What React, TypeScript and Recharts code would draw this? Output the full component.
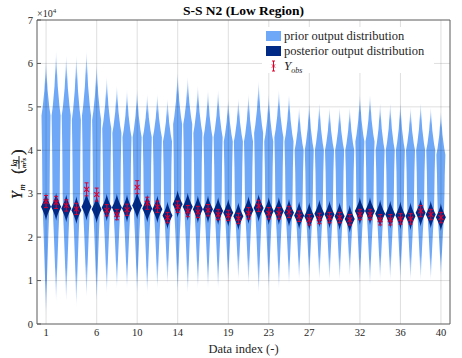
import React from "react";
import {
  ComposedChart,
  Bar,
  Scatter,
  ErrorBar,
  XAxis,
  YAxis,
  ReferenceLine,
} from "recharts";

// all output values are in units of 10^4 kg/(m^2 s)
const dataIndex = [
  1, 2, 3, 4, 5, 6, 7, 8, 9, 10, 11, 12, 13, 14, 15, 16, 17, 18, 19, 20,
  21, 22, 23, 24, 25, 26, 27, 28, 29, 30, 31, 32, 33, 34, 35, 36, 37, 38, 39, 40,
];

// prior output distribution: upper tail end, widest point, lower tail end
const priorHigh = [
  6.1, 6.3, 6.2, 6.2, 6.3, 6.0, 5.7, 5.5, 5.4, 5.4, 5.3, 5.3, 5.2, 5.8, 5.7, 5.5, 5.4, 5.4, 5.2, 5.2,
  5.3, 5.6, 5.3, 5.4, 5.3, 5.0, 5.1, 5.1, 5.0, 5.0, 5.0, 5.3, 5.3, 5.1, 5.1, 5.1, 5.0, 5.1, 5.0, 4.9,
];
const priorMode = [
  4.8, 4.8, 4.8, 4.7, 4.8, 4.7, 4.5, 4.4, 4.3, 4.3, 4.3, 4.3, 4.2, 4.6, 4.6, 4.4, 4.3, 4.3, 4.2, 4.2,
  4.2, 4.4, 4.2, 4.3, 4.2, 4.0, 4.0, 4.0, 4.0, 4.0, 4.0, 4.2, 4.2, 4.0, 4.0, 4.0, 4.0, 4.0, 4.0, 3.9,
];
const priorLow = [
  0.2, 0.5, 0.5, 0.4, 0.6, 0.5, 0.7, 0.8, 0.8, 0.7, 0.7, 0.8, 0.9, 0.7, 0.7, 0.8, 0.8, 0.8, 0.9, 1.0,
  0.9, 0.7, 0.8, 0.8, 0.9, 1.0, 1.0, 1.0, 1.0, 1.0, 1.1, 0.9, 0.9, 1.0, 1.0, 1.0, 1.0, 1.0, 1.0, 1.1,
];

// posterior output distribution centre
const posteriorMean = [
  2.70, 2.70, 2.66, 2.62, 2.70, 2.64, 2.68, 2.68, 2.66, 2.73, 2.66, 2.64, 2.50, 2.76, 2.70, 2.64, 2.64, 2.60, 2.56, 2.48,
  2.62, 2.67, 2.60, 2.60, 2.56, 2.50, 2.48, 2.54, 2.52, 2.48, 2.42, 2.60, 2.60, 2.54, 2.52, 2.50, 2.48, 2.56, 2.52, 2.46,
];

// observations y_obs and their error
const obsValue = [
  2.82, 2.80, 2.73, 2.65, 3.10, 2.98, 2.62, 2.52, 2.63, 3.15, 2.78, 2.70, 2.45, 2.70, 2.60, 2.58, 2.62, 2.52, 2.50, 2.43,
  2.55, 2.72, 2.55, 2.55, 2.58, 2.48, 2.40, 2.43, 2.45, 2.45, 2.40, 2.52, 2.52, 2.40, 2.40, 2.42, 2.42, 2.60, 2.52, 2.45,
];
const obsError = [
  0.14, 0.14, 0.13, 0.13, 0.15, 0.15, 0.13, 0.12, 0.13, 0.15, 0.14, 0.13, 0.12, 0.13, 0.13, 0.13, 0.13, 0.12, 0.12, 0.12,
  0.13, 0.13, 0.13, 0.13, 0.13, 0.12, 0.12, 0.12, 0.12, 0.12, 0.12, 0.12, 0.12, 0.12, 0.12, 0.12, 0.12, 0.13, 0.12, 0.12,
];

const xTicks = [1, 6, 10, 14, 19, 23, 27, 32, 36, 40];
const yTicks = [0, 1, 2, 3, 4, 5, 6, 7];

const PRIOR = "#6ea8f7";
const POSTERIOR = "#002a85";
const RED = "#e0002b";
const AXIS = "#5a5a5a";
const GRID = "rgba(0,0,0,0.13)";
const FONT = "'Liberation Serif', 'DejaVu Serif', serif";

const rows = dataIndex.map((idx, i) => ({
  idx,
  prior: [priorLow[i], priorHigh[i]],
  mode: priorMode[i],
  post: posteriorMean[i],
  obs: obsValue[i],
  obsErr: obsError[i],
}));

// half-width (fraction of the category band) along the violin
const UPPER = [
  [1, 0],
  [0.75, 0.065],
  [0.45, 0.16],
  [0.15, 0.33],
  [0, 0.45],
];
const LOWER = [
  [0.2, 0.22],
  [0.6, 0.1],
  [0.88, 0.04],
  [1, 0],
];

function violinPath(pts: number[][], cx: number, band: number, toPx: (v: number) => number) {
  const right = pts.map(([v, w]) => `${(cx + w * band).toFixed(2)},${toPx(v).toFixed(2)}`);
  const left = pts
    .slice()
    .reverse()
    .map(([v, w]) => `${(cx - w * band).toFixed(2)},${toPx(v).toFixed(2)}`);
  return "M" + right.concat(left).join("L") + "Z";
}

function ViolinShape(props: any) {
  const { x, y, width, height, payload } = props;
  const [lo, hi] = payload.prior;
  const top = Math.min(y, y + height);
  const bot = Math.max(y, y + height);
  const toPx = (v: number) => bot - ((v - lo) / (hi - lo)) * (bot - top);
  const cx = x + width / 2;
  const m = payload.mode;

  const prior: number[][] = [];
  UPPER.forEach(([f, w]) => prior.push([m + f * (hi - m), w]));
  prior.push([(m + 3) / 2, 0.39]);
  prior.push([3.0, 0.36]);
  prior.push([2.4, 0.29]);
  LOWER.forEach(([f, w]) => prior.push([2.4 - f * (2.4 - lo), w]));

  const D = 0.32;
  const post: number[][] = [];
  for (let k = 0; k <= 16; k++) {
    const d = D - (2 * D * k) / 16;
    post.push([payload.post + d, 0.5 * Math.pow(1 - Math.abs(d) / D, 1.4)]);
  }

  const gid = `fade-${payload.idx}`;
  return (
    <g>
      <defs>
        <linearGradient id={gid} x1="0" y1="0" x2="0" y2="1">
          <stop offset="0" stopColor={PRIOR} stopOpacity={0.1} />
          <stop offset="0.1" stopColor={PRIOR} stopOpacity={1} />
          <stop offset="0.86" stopColor={PRIOR} stopOpacity={1} />
          <stop offset="1" stopColor={PRIOR} stopOpacity={0.05} />
        </linearGradient>
      </defs>
      <path d={violinPath(prior, cx, width, toPx)} fill={`url(#${gid})`} />
      <path d={violinPath(post, cx, width, toPx)} fill={POSTERIOR} />
    </g>
  );
}

function ObsMarker(props: any) {
  const { cx, cy } = props;
  const s = 2.4;
  return (
    <g stroke={RED} strokeWidth={1.1}>
      <line x1={cx - s} y1={cy - s} x2={cx + s} y2={cy + s} />
      <line x1={cx - s} y1={cy + s} x2={cx + s} y2={cy - s} />
    </g>
  );
}

function YLabel() {
  return (
    <g transform="translate(19,172) rotate(-90)" fontFamily={FONT} fill="#262626">
      <text x={-27} y={3} fontSize={14} fontStyle="italic">Y</text>
      <text x={-18.5} y={6} fontSize={8.5} fontStyle="italic">m</text>
      <text x={-2} y={4} fontSize={17}>(</text>
      <text x={9} y={-2} fontSize={7.5} fontStyle="italic" textAnchor="middle">kg</text>
      <line x1={3} y1={0} x2={16} y2={0} stroke="#262626" strokeWidth={0.6} />
      <text x={9} y={7} fontSize={7} fontStyle="italic" textAnchor="middle">m²s</text>
      <text x={17} y={4} fontSize={17}>)</text>
    </g>
  );
}

export default function App() {
  const tickStyle = { fontSize: 10.5, fill: "#262626", fontFamily: FONT };
  const pad = { left: 4, right: 4 };
  return (
    <div style={{ position: "fixed", left: 0, top: 0, width: 462, height: 358, background: "#fff" }}>
      <ComposedChart
        width={462}
        height={358}
        data={rows}
        margin={{ top: 20, right: 12, bottom: 0, left: 5 }}
        barCategoryGap={0}
      >
        <XAxis xAxisId="cat" dataKey="idx" type="category" hide height={0} padding={pad} />
        <XAxis
          xAxisId="num"
          dataKey="idx"
          type="number"
          domain={[0.5, 40.5]}
          ticks={xTicks}
          interval={0}
          padding={pad}
          height={34}
          tickSize={0}
          tickMargin={5}
          tick={tickStyle}
          axisLine={{ stroke: AXIS }}
          tickLine={false}
          label={{
            value: "Data index (-)",
            position: "insideBottom",
            offset: 5,
            style: { fontSize: 12.5, fill: "#262626", fontFamily: FONT },
          }}
        />
        <XAxis
          xAxisId="top"
          orientation="top"
          type="number"
          domain={[0.5, 40.5]}
          ticks={xTicks}
          interval={0}
          padding={pad}
          mirror
          tick={false}
          tickSize={4}
          axisLine={{ stroke: AXIS }}
          tickLine={{ stroke: AXIS }}
        />
        <YAxis
          type="number"
          domain={[0, 7]}
          ticks={yTicks}
          interval={0}
          width={32}
          tickSize={-4}
          tickMargin={8}
          tick={tickStyle}
          axisLine={{ stroke: AXIS }}
          tickLine={{ stroke: AXIS }}
          label={{ content: () => <YLabel /> }}
        />
        <YAxis
          yAxisId="right"
          orientation="right"
          type="number"
          domain={[0, 7]}
          ticks={yTicks}
          interval={0}
          mirror
          tick={false}
          tickSize={4}
          axisLine={{ stroke: AXIS }}
          tickLine={{ stroke: AXIS }}
        />
        <Bar
          xAxisId="cat"
          dataKey="prior"
          shape={ViolinShape}
          isAnimationActive={false}
        />
        {xTicks.map((t) => (
          <ReferenceLine key={`gx${t}`} xAxisId="num" x={t} stroke={GRID} />
        ))}
        {yTicks.slice(1, -1).map((t) => (
          <ReferenceLine key={`gy${t}`} xAxisId="num" y={t} stroke={GRID} />
        ))}
        <Scatter xAxisId="num" dataKey="obs" shape={ObsMarker} isAnimationActive={false}>
          <ErrorBar dataKey="obsErr" direction="y" width={2} stroke={RED} strokeWidth={1} isAnimationActive={false} />
        </Scatter>
      </ComposedChart>

      <svg
        width={462}
        height={358}
        style={{ position: "absolute", left: 0, top: 0, pointerEvents: "none" }}
        fontFamily={FONT}
      >
        <text x={243.5} y={15} textAnchor="middle" fontSize={13.5} fontWeight="bold" fill="#000">
          S-S N2 (Low Region)
        </text>
        <text x={37} y={17} fontSize={10} fill="#262626">
          ×10<tspan dy={-4} fontSize={7}>4</tspan>
        </text>

        <rect x={262} y={27} width={172} height={46} fill="#fff" />
        <rect x={266} y={31} width={15} height={10} fill={PRIOR} />
        <rect x={266} y={46} width={15} height={10} fill={POSTERIOR} />
        <g stroke={RED} strokeWidth={1}>
          <line x1={273.5} y1={61} x2={273.5} y2={71} />
          <line x1={272} y1={61} x2={275} y2={61} />
          <line x1={272} y1={71} x2={275} y2={71} />
          <line x1={272} y1={64.5} x2={275} y2={67.5} />
          <line x1={272} y1={67.5} x2={275} y2={64.5} />
        </g>
        <text x={284} y={40} fontSize={12.5} fill="#262626">prior output distribution</text>
        <text x={284} y={55} fontSize={12.5} fill="#262626">posterior output distribution</text>
        <text x={284} y={70} fontSize={13} fill="#262626" fontStyle="italic">
          Y<tspan dy={3} fontSize={8}>obs</tspan>
        </text>

        <YLabel />
      </svg>
    </div>
  );
}
